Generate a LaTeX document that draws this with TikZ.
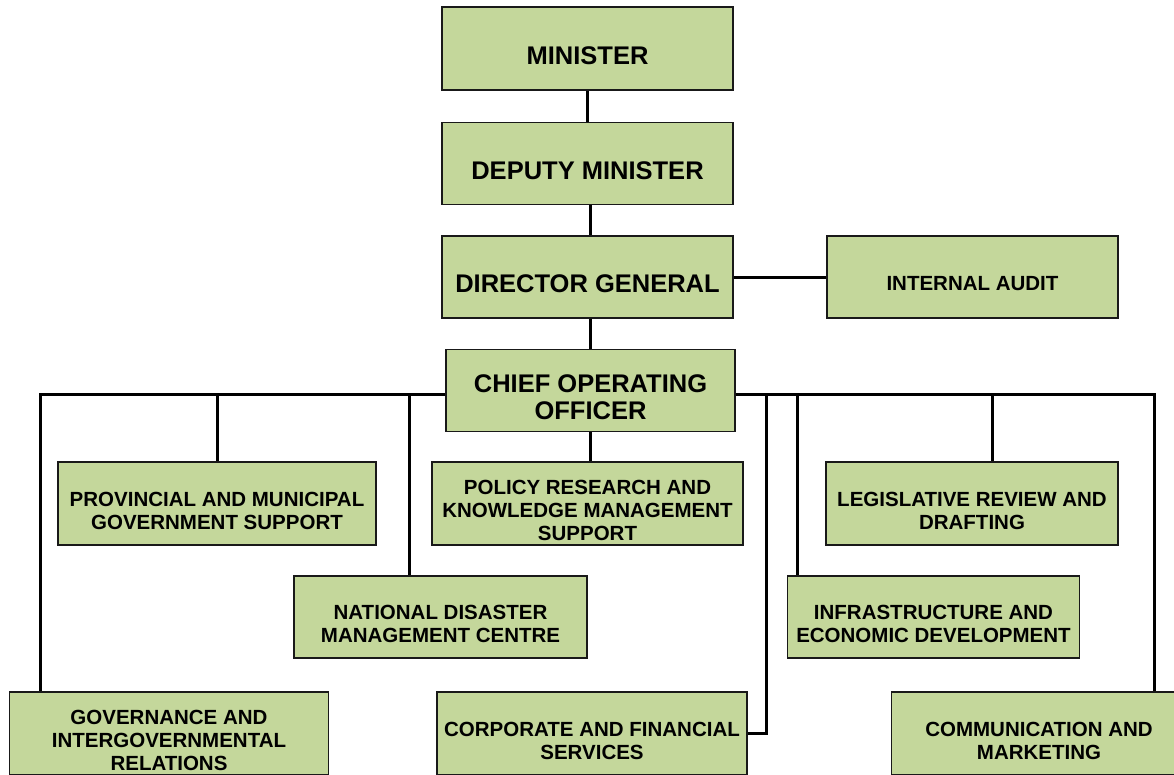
\documentclass[tikz,border=0pt]{standalone}
\usepackage{fontspec}
\setmainfont{Liberation Sans}
\usetikzlibrary{positioning,calc}
\definecolor{boxgreen}{HTML}{C4D79B}
\tikzset{
  unit/.style={draw=black!90, line width=1.2pt, fill=boxgreen, inner sep=0pt},
  bigtxt/.style={font=\fontsize{25.5}{27}\selectfont\bfseries, align=center, yshift=-7pt},
  smalltxt/.style={font=\fontsize{20.5}{23}\selectfont\bfseries, align=center, yshift=-7pt},
  link/.style={line width=3pt}
}
\begin{document}
\begin{tikzpicture}[x=1pt, y=-1pt]
\clip (0,0) rectangle (1174,774);
\fill[white] (0,0) rectangle (1174,774);
\node[unit, minimum width=291pt, minimum height=83pt, label={[bigtxt]center:MINISTER}] (min) at (587.5,48.5) {};
\node[unit, minimum width=291pt, minimum height=82pt, label={[bigtxt]center:DEPUTY MINISTER}] (dep) at (587.5,163.5) {};
\node[unit, minimum width=291pt, minimum height=82pt, label={[bigtxt]center:DIRECTOR GENERAL}] (dg) at (587.5,277) {};
\node[unit, minimum width=291pt, minimum height=82pt, label={[smalltxt]center:INTERNAL AUDIT}] (ia) at (972.5,277) {};
\node[unit, minimum width=289pt, minimum height=82pt, label={[bigtxt]center:CHIEF OPERATING\\OFFICER}] (coo) at (590.5,390.5) {};
\node[unit, minimum width=318pt, minimum height=83pt, label={[smalltxt]center:PROVINCIAL AND MUNICIPAL\\GOVERNMENT SUPPORT}] (prov) at (217,503.5) {};
\node[unit, minimum width=311pt, minimum height=83pt, label={[smalltxt]center:POLICY RESEARCH AND\\KNOWLEDGE MANAGEMENT\\SUPPORT}] (pol) at (587.5,503.5) {};
\node[unit, minimum width=292pt, minimum height=83pt, label={[smalltxt]center:LEGISLATIVE REVIEW AND\\DRAFTING}] (leg) at (972,503.5) {};
\node[unit, minimum width=293pt, minimum height=82pt, label={[smalltxt]center:NATIONAL DISASTER\\MANAGEMENT CENTRE}] (nat) at (440.5,617) {};
\node[unit, minimum width=292pt, minimum height=82pt, label={[smalltxt]center:INFRASTRUCTURE AND\\ECONOMIC DEVELOPMENT}] (inf) at (933.5,617) {};
\node[unit, minimum width=319pt, minimum height=83pt, label={[smalltxt]center:GOVERNANCE AND\\INTERGOVERNMENTAL\\RELATIONS}] (gov) at (169,733.5) {};
\node[unit, minimum width=310pt, minimum height=83pt, label={[smalltxt]center:CORPORATE AND FINANCIAL\\SERVICES}] (corp) at (592,733.5) {};
\node[unit, minimum width=295pt, minimum height=83pt, label={[smalltxt]center:COMMUNICATION AND\\MARKETING}] (com) at (1039,733.5) {};
\draw[link] (min) -- (dep);
\draw[link] (dep.south -| coo.north) -- (dg.north -| coo.north);
\draw[link] (dg.south -| coo.north) -- (coo.north);
\draw[link] (dg) -- (ia);
\draw[link] (coo.south) -- (coo.south |- pol.north);
\coordinate (busW) at (40,394);
\coordinate (busE) at (1154,394);
\coordinate (natDrop) at (409,394);
\coordinate (corpDrop) at (766,394);
\coordinate (infDrop) at (797,394);
\coordinate (legDrop) at (992,394);
\draw[link] (coo.west |- busW) -- (busW) -- (busW |- gov.north);
\draw[link] (coo.east |- busE) -- (busE) -- (busE |- com.north);
\draw[link] (prov.north |- busW) -- (prov.north);
\draw[link] (natDrop) -- (natDrop |- nat.north);
\draw[link] (corpDrop) |- (corp.east);
\draw[link] (infDrop) -- (infDrop |- inf.north);
\draw[link] (legDrop) -- (legDrop |- leg.north);
\end{tikzpicture}
\end{document}
